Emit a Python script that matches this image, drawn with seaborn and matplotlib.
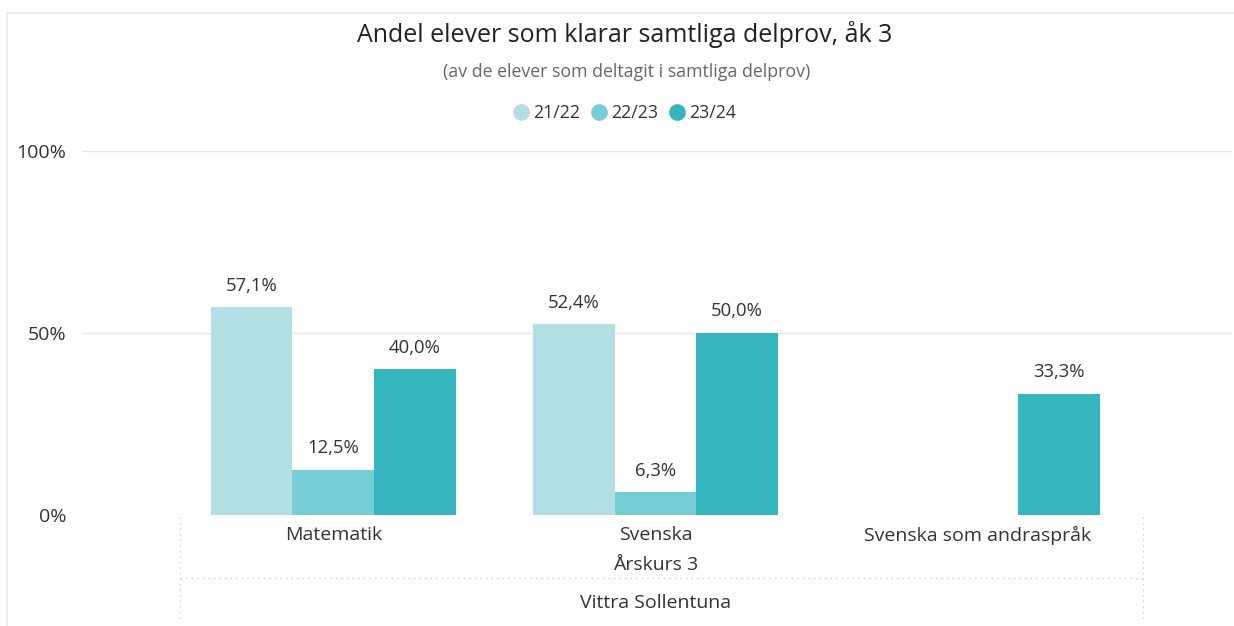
import pandas as pd
import numpy as np
import matplotlib
matplotlib.use("Agg")
import matplotlib.pyplot as plt
import seaborn as sns
from matplotlib.lines import Line2D

# Data
subjects = ["Matematik", "Svenska", "Svenska som andraspråk"]
years = ["21/22", "22/23", "23/24"]
v_2122 = [57.1, 52.4, np.nan]
v_2223 = [12.5, 6.3, np.nan]
v_2324 = [40.0, 50.0, 33.3]
colors = ["#B2DFE3", "#76CDD5", "#35B5BE"]

df = pd.DataFrame({
    "subject": subjects * 3,
    "year": [years[0]] * 3 + [years[1]] * 3 + [years[2]] * 3,
    "value": v_2122 + v_2223 + v_2324,
}).dropna()

sns.set_style("white")
plt.rcParams["font.family"] = ["Open Sans", "DejaVu Sans"]
text_col = "#333333"

fig = plt.figure(figsize=(12.34, 6.26), dpi=100)
W, H = 1234, 626
ax = fig.add_axes([82 / W, 1 - 515 / H, 1150 / W, (515 - 132.8) / H])

sns.barplot(data=df, x="subject", y="value", hue="year", order=subjects,
            hue_order=years, palette=colors, width=0.76, gap=0,
            saturation=1, linewidth=0, ax=ax, legend=False)

for cont in ax.containers:
    labels = [f"{b.get_height():.1f}%".replace(".", ",") for b in cont]
    ax.bar_label(cont, labels=labels, padding=9, fontsize=13.3, color=text_col)

ax.set_xlim(-0.78, 2.79)
ax.set_ylim(0, 105)
ax.set_yticks([0, 50, 100])
ax.set_yticklabels(["0%", "50%", "100%"])
ax.grid(axis="y", color="#e6e6e6", linewidth=1)
ax.set_axisbelow(True)
sns.despine(ax=ax, left=True, bottom=True)
ax.tick_params(axis="y", length=0, pad=11.5, labelsize=14, labelcolor=text_col)
ax.tick_params(axis="x", length=0, pad=8, labelsize=14, labelcolor=text_col)
ax.set_xlabel("")
ax.set_ylabel("")

# Titles
fig.text(625 / W, 1 - 35 / H, "Andel elever som klarar samtliga delprov, åk 3",
         ha="center", va="center", fontsize=18, color="#222222")
fig.text(627 / W, 1 - 72 / H, "(av de elever som deltagit i samtliga delprov)",
         ha="center", va="center", fontsize=12.8, color="#666666")

# Legend
handles = [Line2D([], [], marker="o", linestyle="", markersize=11,
                  markerfacecolor=c, markeredgecolor=c) for c in colors]
fig.legend(handles, years, loc="center", bbox_to_anchor=(624 / W, 1 - 113 / H),
           ncol=3, frameon=False, fontsize=12.8, handletextpad=0.2,
           columnspacing=0.55, handlelength=1.0, labelcolor=text_col)

# Hierarchical axis labels
ax.annotate("Årskurs 3", xy=(1, 1 - 565 / H), xycoords=("data", "figure fraction"),
            ha="center", va="center", fontsize=14, color=text_col)
ax.annotate("Vittra Sollentuna", xy=(1, 1 - 603 / H), xycoords=("data", "figure fraction"),
            ha="center", va="center", fontsize=14, color=text_col)

dot = dict(color="#cccccc", linestyle=(0, (1, 3)), linewidth=1)
fig.add_artist(Line2D([180 / W, 180 / W], [1 - 517 / H, 1 - 622 / H], **dot))
fig.add_artist(Line2D([1143 / W, 1143 / W], [1 - 517 / H, 1 - 622 / H], **dot))
fig.add_artist(Line2D([180 / W, 1143 / W], [1 - 578 / H, 1 - 578 / H], **dot))

# Outer frame
frame = dict(color="#e8e8e8", linewidth=1.2)
fig.add_artist(Line2D([7 / W, 1], [1 - 13 / H, 1 - 13 / H], **frame))
fig.add_artist(Line2D([7 / W, 7 / W], [1 - 13 / H, 0], **frame))

fig.savefig("out.png", dpi=100)
